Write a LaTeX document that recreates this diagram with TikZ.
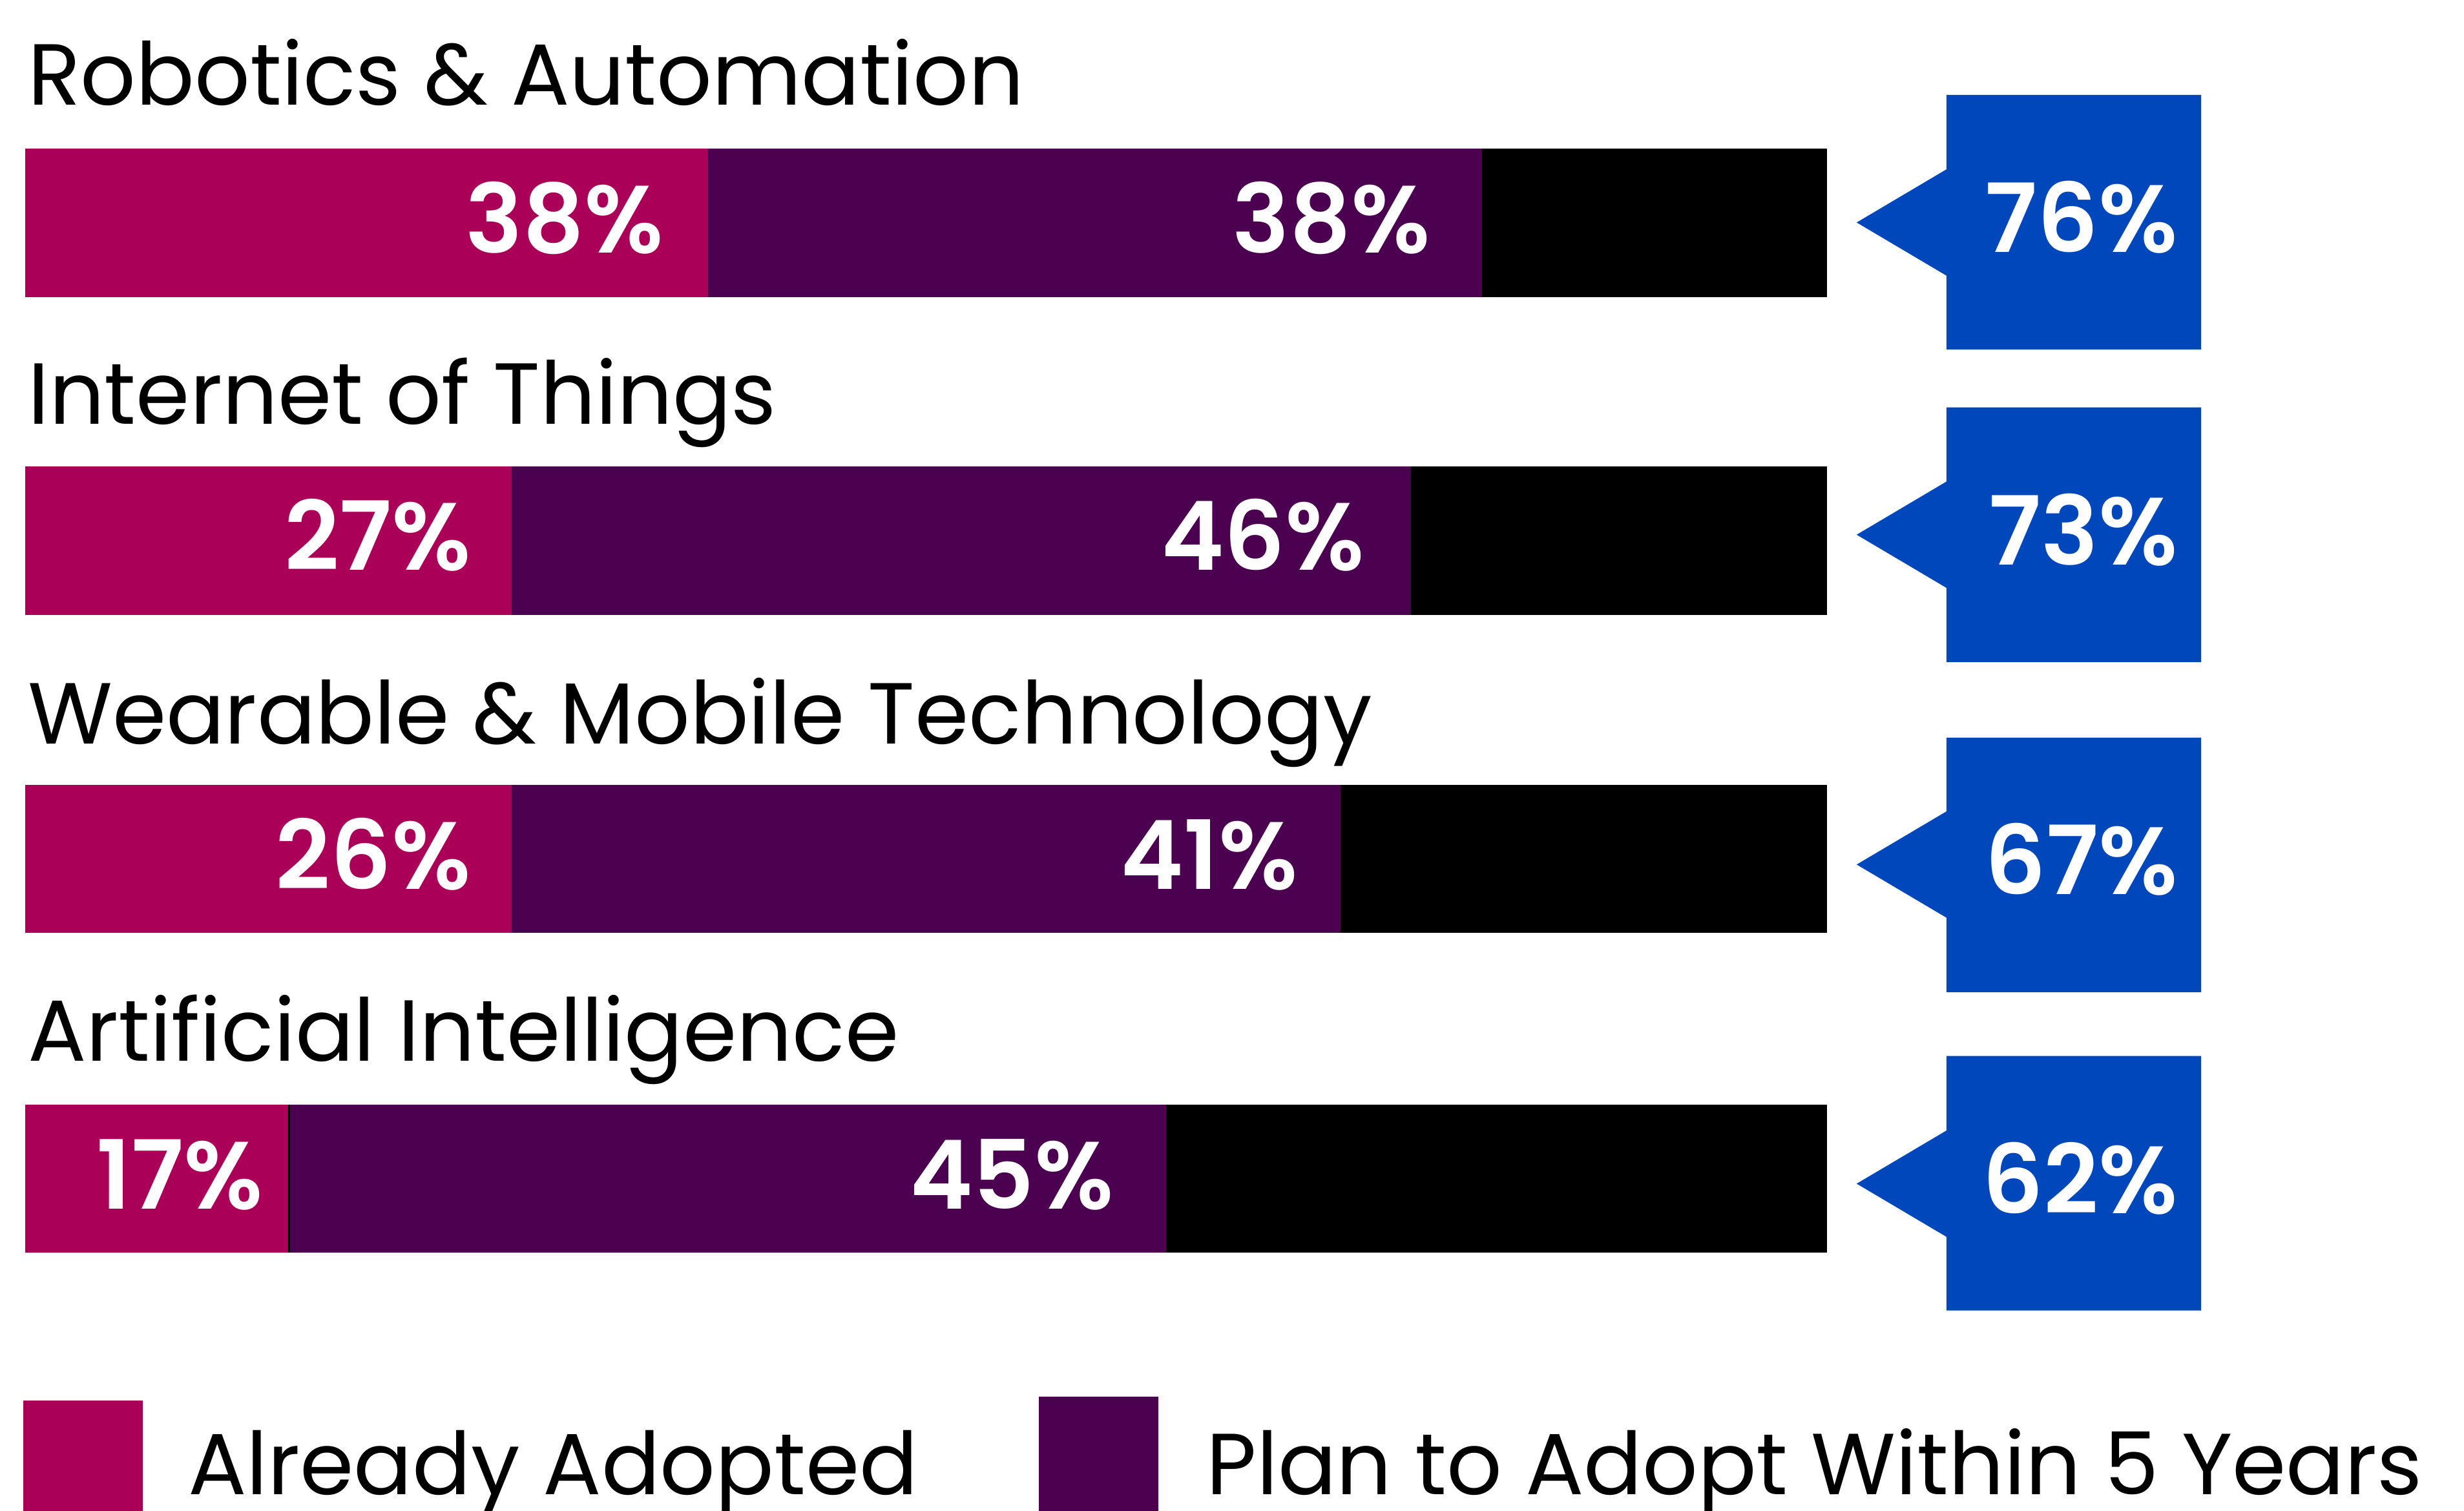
\documentclass[tikz,border=0pt]{standalone}
\usepackage{fontspec}
\setmainfont{Poppins}[BoldFont={Poppins SemiBold}]
\definecolor{adopted}{HTML}{AA0058}
\definecolor{planned}{HTML}{4B0050}
\definecolor{total}{HTML}{0047BB}

\begin{document}
\begin{tikzpicture}[x=0.1mm, y=-0.1mm, every node/.style={inner sep=0pt},
    rowname/.style={font=\fontsize{15.7}{18}\selectfont, anchor=base west},
    pct/.style={font=\bfseries\fontsize{17.3}{20}\selectfont, text=white, anchor=base east}]
    \useasboundingbox (0,0) rectangle (1568,961.6);

    % Robotics & Automation
    \node[rowname] (robo) at (17,67) {Robotics \& Automation};
    \fill[adopted] (16,94.6) rectangle (450.6,189.1);
    \fill[planned] (450.6,94.6) rectangle (943,189.1);
    \fill[black] (943,94.6) rectangle (1162.5,189.1);
    \node[pct] (robo-a) at (423,161) {38\%};
    \node[pct] (robo-p) at (911,161) {38\%};
    \fill[total] (1238.6,60.4) -- (1400.7,60.4) -- (1400.7,222.4) -- (1238.6,222.4) -- (1238.6,175.4) -- (1181.5,141.6) -- (1238.6,107.8) -- cycle;
    \node[pct] (robo-t) at (1386.5,160.7) {76\%};

    % Internet of Things
    \node[rowname] (iot) at (17,270) {Internet of Things};
    \fill[adopted] (16,297) rectangle (325.4,391.5);
    \fill[planned] (325.4,297) rectangle (898,391.5);
    \fill[black] (898,297) rectangle (1162.5,391.5);
    \node[pct] (iot-a) at (300.3,362.9) {27\%};
    \node[pct] (iot-p) at (869,362.9) {46\%};
    \fill[total] (1238.6,259.3) -- (1400.7,259.3) -- (1400.7,421.3) -- (1238.6,421.3) -- (1238.6,374.1) -- (1181.5,340.3) -- (1238.6,306.5) -- cycle;
    \node[pct] (iot-t) at (1386.5,359.5) {73\%};

    % Wearable & Mobile Technology
    \node[rowname] (wear) at (17,473.6) {Wearable \& Mobile Technology};
    \fill[adopted] (16,499.6) rectangle (325.4,593.7);
    \fill[planned] (325.4,499.6) rectangle (853.1,593.7);
    \fill[black] (853.1,499.6) rectangle (1162.5,593.7);
    \node[pct] (wear-a) at (300.3,565.9) {26\%};
    \node[pct] (wear-p) at (826.5,565.9) {41\%};
    \fill[total] (1238.6,469.4) -- (1400.7,469.4) -- (1400.7,631.4) -- (1238.6,631.4) -- (1238.6,584) -- (1181.5,550.2) -- (1238.6,516.4) -- cycle;
    \node[pct] (wear-t) at (1386.5,569.3) {67\%};

    % Artificial Intelligence
    \node[rowname] (ai) at (17,675.3) {Artificial Intelligence};
    \fill[adopted] (16,703) rectangle (184,797.3);
    \fill[planned] (184,703) rectangle (742.1,797.3);
    \fill[black] (742.1,703) rectangle (1162.5,797.3);
    \draw[black, line width=0.4pt] (184,703) -- (184,797.3);
    \node[pct] (ai-a) at (168,769.3) {17\%};
    \node[pct] (ai-p) at (709.4,769.3) {45\%};
    \fill[total] (1238.6,672) -- (1400.7,672) -- (1400.7,834) -- (1238.6,834) -- (1238.6,787.1) -- (1181.5,753.3) -- (1238.6,719.5) -- cycle;
    \node[pct] (ai-t) at (1386.5,772.4) {62\%};

    % legend
    \fill[adopted] (15,891.3) rectangle (91,961.6);
    \node[rowname] (leg-a) at (119,951) {Already Adopted};
    \fill[planned] (661,888.8) rectangle (737,961.6);
    \node[rowname] (leg-p) at (767,951) {Plan to Adopt Within 5 Years};
  \end{tikzpicture}
\end{document}
